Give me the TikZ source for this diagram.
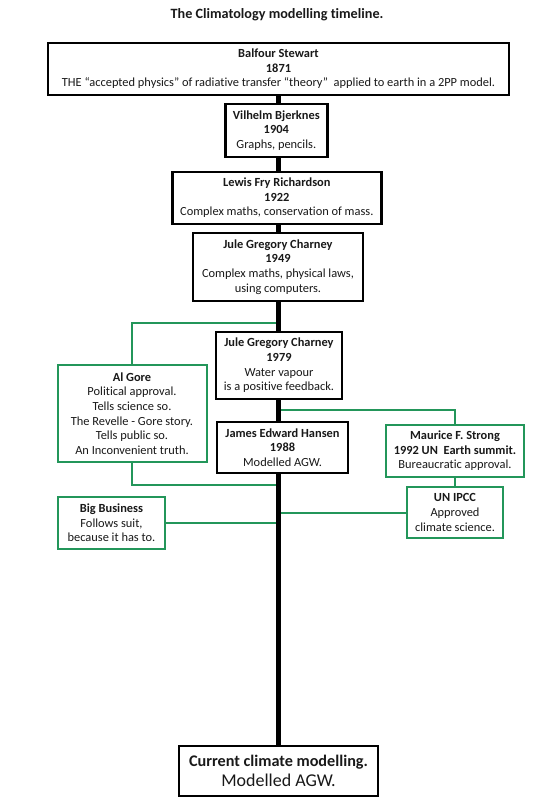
\documentclass[tikz,border=0pt]{standalone}
\usepackage{fontspec}
\setmainfont{Carlito}[Ligatures=NoCommon]
\usetikzlibrary{backgrounds}
\definecolor{boxgreen}{RGB}{35,150,90}
\definecolor{txt}{RGB}{25,25,25}
\begin{document}
\begin{tikzpicture}[x=1pt,y=-1pt,
  every node/.style={inner sep=0pt, align=center, text=txt, font=\fontsize{12.4}{14.6}\selectfont},
  blackbox/.style={draw=black, line width=2.6pt, fill=white},
  greenbox/.style={draw=boxgreen, line width=2pt, fill=white},
  spine/.style={draw=black, line width=4.5pt},
  link/.style={draw=boxgreen, line width=2pt}]
\useasboundingbox (0,0) rectangle (554,800);
\node[font=\bfseries\fontsize{14.2}{16}\selectfont] (title) at (277,15) {The Climatology modelling timeline.};

\node[blackbox, minimum width=461, minimum height=52] (balfour) at (278.5,69) {\textbf{Balfour Stewart}\\\textbf{1871}\\THE “accepted physics” of radiative transfer “theory”\ \ applied to earth in a 2PP model.};
\node[blackbox, minimum width=102, minimum height=53] (bjerknes) at (276.3,130.5) {\textbf{Vilhelm Bjerknes}\\\textbf{1904}\\Graphs, pencils.};
\node[blackbox, minimum width=209, minimum height=52] (richardson) at (276.8,198) {\textbf{Lewis Fry Richardson}\\\textbf{1922}\\Complex maths, conservation of mass.};
\node[blackbox, minimum width=170, minimum height=68] (charneyA) at (278,267) {\textbf{Jule Gregory Charney}\\\textbf{1949}\\Complex maths, physical laws,\\using computers.};
\node[blackbox, minimum width=126, minimum height=67] (charneyB) at (279,365.5) {\textbf{Jule Gregory Charney}\\\textbf{1979}\\Water vapour\\is a positive feedback.};
\node[blackbox, minimum width=131, minimum height=51] (hansen) at (282.5,447.5) {\textbf{James Edward Hansen}\\\textbf{1988}\\Modelled AGW.};
\node[blackbox, minimum width=199, minimum height=50, font=\fontsize{16.2}{20}\selectfont] (final) at (278.5,771) {\textbf{Current climate modelling.}\\{\fontsize{18}{20}\selectfont Modelled AGW.}};

\node[greenbox, minimum width=149, minimum height=97] (gore) at (132,413.5) {\textbf{Al Gore}\\Political approval.\\Tells science so.\\The Revelle - Gore story.\\Tells public so.\\An Inconvenient truth.};
\node[greenbox, minimum width=138, minimum height=52] (strong) at (455,451) {\textbf{Maurice F. Strong}\\\textbf{1992 UN\ \ Earth summit.}\\Bureaucratic approval.};
\node[greenbox, minimum width=96, minimum height=51] (ipcc) at (455,512.5) {\textbf{UN IPCC}\\Approved\\climate science.};
\node[greenbox, minimum width=107, minimum height=52] (business) at (111.5,523) {\textbf{Big Business}\\Follows suit,\\because it has to.};

\coordinate (jgoreTop) at (278.5,323);
\coordinate (jstrong) at (278.5,409.5);
\coordinate (jgoreBot) at (278.5,485);
\coordinate (jipcc) at (278.5,512.5);
\coordinate (jbusiness) at (278.5,523);

\begin{scope}[on background layer]
\draw[link] (gore.north) |- (jgoreTop);
\draw[link] (gore.south) |- (jgoreBot);
\draw[link] (strong.north) |- (jstrong);
\draw[link] (strong.south) -- (ipcc.north);
\draw[link] (ipcc.west) -- (jipcc);
\draw[link] (business.east) -- (jbusiness);
\draw[spine] (balfour.south) -- (final.north);
\end{scope}
\end{tikzpicture}
\end{document}
